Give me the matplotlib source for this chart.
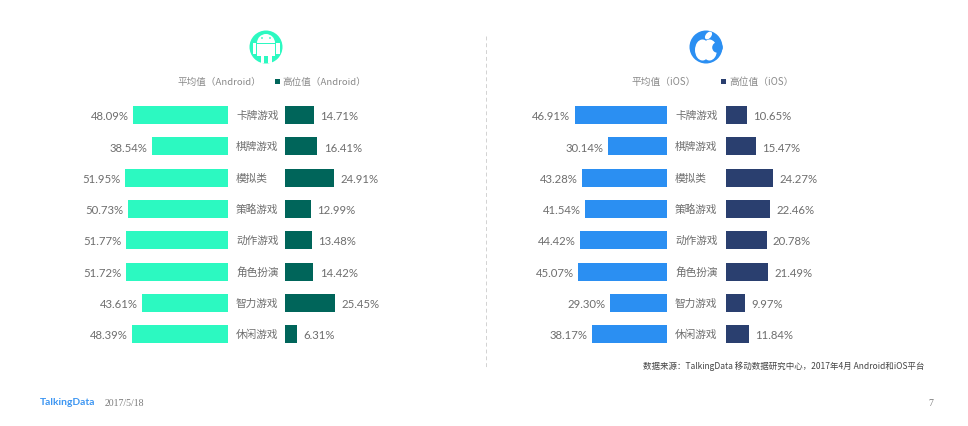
import matplotlib
matplotlib.use("Agg")
import matplotlib.pyplot as plt
from matplotlib.patches import Circle, Rectangle, Ellipse, Wedge

plt.rcParams['font.family'] = ['Noto Sans CJK SC', 'DejaVu Sans']

categories = ['卡牌游戏', '棋牌游戏', '模拟类', '策略游戏', '动作游戏', '角色扮演', '智力游戏', '休闲游戏']
android_avg = [48.09, 38.54, 51.95, 50.73, 51.77, 51.72, 43.61, 48.39]
android_top = [14.71, 16.41, 24.91, 12.99, 13.48, 14.42, 25.45, 6.31]
ios_avg = [46.91, 30.14, 43.28, 41.54, 44.42, 45.07, 29.30, 38.17]
ios_top = [10.65, 15.47, 24.27, 22.46, 20.78, 21.49, 9.97, 11.84]

W, H = 968, 427
TEAL, DARK, BLUE, NAVY = '#2CF9C1', '#00655A', '#2B8FF2', '#2A3F6F'
GREY = '#6E6E6E'
PX_PER_UNIT = 1.975
NUM = ['Lato', 'Noto Sans CJK SC']
TOP, BOTTOM = 100.5, 350.7

fig = plt.figure(figsize=(W / 100, H / 100), dpi=100, facecolor='white')

bg = fig.add_axes([0, 0, 1, 1])
bg.set_xlim(0, W)
bg.set_ylim(H, 0)
bg.axis('off')


def panel(x0, x1, values, color, left):
    ax = fig.add_axes([x0 / W, 1 - BOTTOM / H, (x1 - x0) / W, (BOTTOM - TOP) / H])
    span = (x1 - x0) / PX_PER_UNIT
    ax.set_xlim(span, 0) if left else ax.set_xlim(0, span)
    ax.set_ylim(7.5, -0.5)
    ax.axis('off')
    ax.barh(range(len(values)), values, height=0.575, color=color)
    for i, v in enumerate(values):
        ax.annotate(f'{v:.2f}%', (v, i), xytext=(-3.2 if left else 4.6, -0.5),
                    textcoords='offset points', va='center',
                    ha='right' if left else 'left',
                    fontsize=8.2, color=GREY, family=NUM)
    return ax


panel(60, 228, android_avg, TEAL, True)
panel(285, 420, android_top, DARK, False)
panel(510, 667.5, ios_avg, BLUE, True)
panel(725.5, 860, ios_top, NAVY, False)

row = (BOTTOM - TOP) / 8
for i, c in enumerate(categories):
    y = TOP + row * (i + 0.5)
    bg.text(236, y, c, ha='left', va='center', fontsize=7.7, color=GREY)
    bg.text(675, y, c, ha='left', va='center', fontsize=7.7, color=GREY)

# Legends
LEG = '#8A8A8A'
bg.text(178, 82, '平均值（Android）', ha='left', va='center', fontsize=6.9, color=LEG)
bg.add_patch(Rectangle((275, 80), 5, 5, color=DARK, lw=0))
bg.text(282, 82, '高位值（Android）', ha='left', va='center', fontsize=6.9, color=LEG)
bg.text(631, 81.5, '平均值（iOS）', ha='left', va='center', fontsize=7.0, color=LEG)
bg.add_patch(Rectangle((721, 79.5), 5, 5, color=NAVY, lw=0))
bg.text(729, 81.5, '高位值（iOS）', ha='left', va='center', fontsize=7.0, color=LEG)

# Android icon
cx, cy = 266, 48
bg.add_patch(Circle((cx, cy), 16.5, color=TEAL, lw=0))
bg.add_patch(Wedge((cx, cy - 4), 9, 180, 0, color='white', lw=0))
bg.add_patch(Rectangle((cx - 9, cy - 3), 18, 12, color='white', lw=0))
bg.add_patch(Rectangle((cx - 13.5, cy - 4), 3.2, 11, color='white', lw=0))
bg.add_patch(Rectangle((cx + 10.3, cy - 4), 3.2, 11, color='white', lw=0))
bg.add_patch(Rectangle((cx - 5.5, cy + 9), 3.2, 7, color='white', lw=0))
bg.add_patch(Rectangle((cx + 2.3, cy + 9), 3.2, 7, color='white', lw=0))
bg.add_patch(Circle((cx - 4, cy - 9), 0.9, color=TEAL, lw=0))
bg.add_patch(Circle((cx + 4, cy - 9), 0.9, color=TEAL, lw=0))
bg.add_patch(Rectangle((cx - 10, cy - 4.5), 20, 1.0, color=TEAL, lw=0))

# Apple icon
cx, cy = 706, 48
bg.add_patch(Circle((cx, cy), 16.5, color=BLUE, lw=0))
bg.add_patch(Ellipse((cx - 3.5, cy + 3), 15, 21, color='white', lw=0))
bg.add_patch(Ellipse((cx + 3.5, cy + 3), 15, 21, color='white', lw=0))
bg.add_patch(Circle((cx + 11.5, cy + 0.5), 5.3, color=BLUE, lw=0))
bg.add_patch(Ellipse((cx + 2.5, cy - 11.5), 5.5, 9, angle=40, color='white', lw=0))

# Divider
bg.plot([486, 486], [37, 368], color='#D2D2D2', lw=0.7, ls=(0, (4, 3)))

# Footer
bg.text(643, 366.5, '数据来源：TalkingData 移动数据研究中心，2017年4月 Android和iOS平台',
        ha='left', va='center', fontsize=6.1, color='#444444')
bg.text(40, 403, 'TalkingData', ha='left', va='center', fontsize=7.4, fontweight='bold',
        color='#3D96F2', family=['Lato', 'DejaVu Sans'])
bg.text(105, 404, '2017/5/18', ha='left', va='center', fontsize=7, color='#7A7A7A',
        family=['Liberation Serif'])
bg.text(931, 404, '7', ha='center', va='center', fontsize=7, color='#7A7A7A',
        family=['Liberation Serif'])

fig.savefig('out.png', dpi=100, facecolor='white')
